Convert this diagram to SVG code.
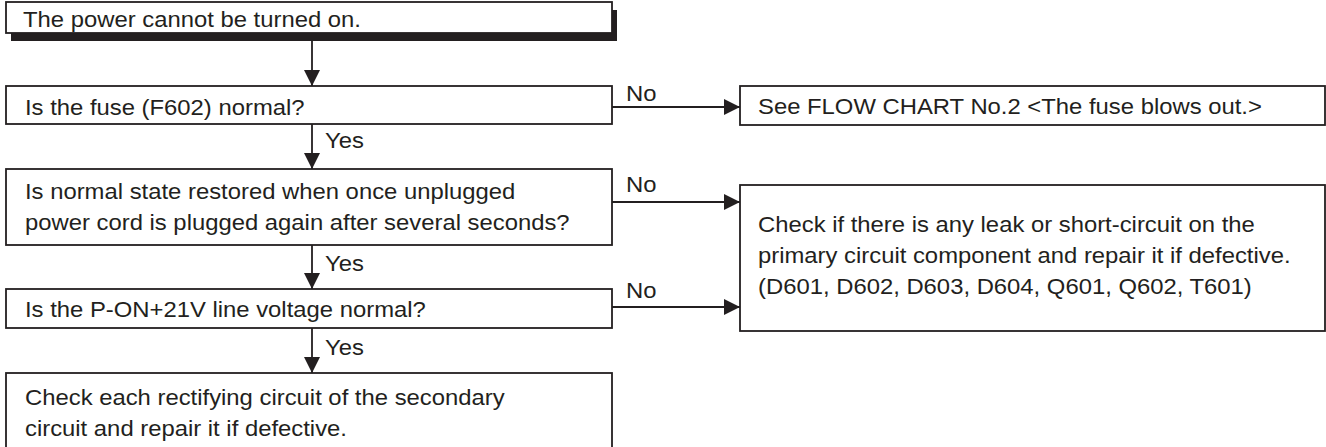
<svg xmlns="http://www.w3.org/2000/svg" width="1326" height="447" viewBox="0 0 1326 447">
<defs>
<style>
.box{fill:#fff;stroke:#231f20;stroke-width:1.8}
.shadow{fill:#231f20}
.t{font-family:"Liberation Sans",Arial,Helvetica,sans-serif;font-size:22.5px;fill:#231f20}
.ln{stroke:#231f20;stroke-width:1.8;fill:none}
</style>
<marker id="ah" markerWidth="16" markerHeight="16" refX="16" refY="8" orient="auto" markerUnits="userSpaceOnUse">
<path d="M0,0 L16,8 L0,16 z" fill="#231f20"/>
</marker>
</defs>
<rect width="1326" height="447" fill="#fff"/>
<g id="connectors">
<line class="ln" x1="312" y1="41" x2="312" y2="86" marker-end="url(#ah)"/>
<line class="ln" x1="312" y1="124" x2="312" y2="169" marker-end="url(#ah)"/>
<line class="ln" x1="312" y1="245" x2="312" y2="289" marker-end="url(#ah)"/>
<line class="ln" x1="312" y1="328" x2="312" y2="373" marker-end="url(#ah)"/>
<line class="ln" x1="612" y1="107" x2="740" y2="107" marker-end="url(#ah)"/>
<line class="ln" x1="612" y1="202" x2="740" y2="202" marker-end="url(#ah)"/>
<line class="ln" x1="612" y1="307" x2="740" y2="307" marker-end="url(#ah)"/>
<text class="t" transform="translate(325 148) scale(1.06 1)">Yes</text>
<text class="t" transform="translate(325 271) scale(1.06 1)">Yes</text>
<text class="t" transform="translate(325 355) scale(1.06 1)">Yes</text>
<text class="t" transform="translate(626 101) scale(1.06 1)">No</text>
<text class="t" transform="translate(626 192) scale(1.06 1)">No</text>
<text class="t" transform="translate(626 298) scale(1.06 1)">No</text>
</g>
<g id="start">
<rect class="shadow" x="11" y="10" width="606" height="31"/>
<rect class="box" x="6" y="2" width="606" height="31"/>
<text class="t" transform="translate(23 27) scale(1.06 1)">The power cannot be turned on.</text>
</g>
<g id="fuse">
<rect class="box" x="6" y="86" width="606" height="38"/>
<text class="t" transform="translate(25 115) scale(1.06 1)">Is the fuse (F602) normal?</text>
</g>
<g id="replug">
<rect class="box" x="6" y="169" width="606" height="76"/>
<text class="t" transform="translate(25 199) scale(1.06 1)">Is normal state restored when once unplugged</text>
<text class="t" transform="translate(25 230) scale(1.06 1)">power cord is plugged again after several seconds?</text>
</g>
<g id="voltage">
<rect class="box" x="6" y="289" width="606" height="39"/>
<text class="t" transform="translate(25 317) scale(1.06 1)">Is the P-ON+21V line voltage normal?</text>
</g>
<g id="secondary">
<rect class="box" x="6" y="373" width="606" height="90"/>
<text class="t" transform="translate(25 405) scale(1.06 1)">Check each rectifying circuit of the secondary</text>
<text class="t" transform="translate(25 436) scale(1.06 1)">circuit and repair it if defective.</text>
</g>
<g id="flowchart2">
<rect class="box" x="740" y="86" width="585" height="39"/>
<text class="t" transform="translate(758 114) scale(1.06 1)">See FLOW CHART No.2 &lt;The fuse blows out.&gt;</text>
</g>
<g id="primary">
<rect class="box" x="740" y="185" width="585" height="146"/>
<text class="t" transform="translate(758 232) scale(1.06 1)">Check if there is any leak or short-circuit on the</text>
<text class="t" transform="translate(758 263) scale(1.06 1)">primary circuit component and repair it if defective.</text>
<text class="t" transform="translate(758 294) scale(1.06 1)">(D601, D602, D603, D604, Q601, Q602, T601)</text>
</g>
</svg>
